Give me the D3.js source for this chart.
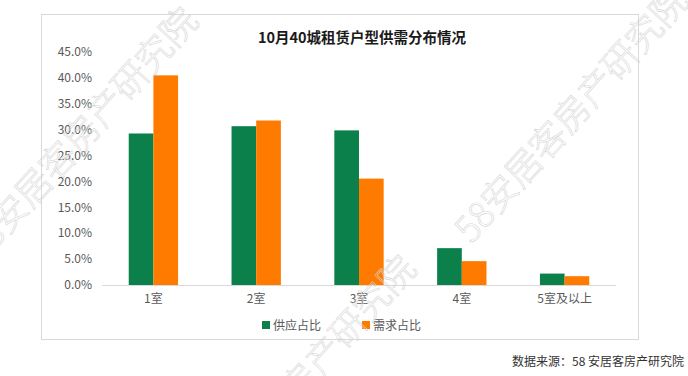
<!DOCTYPE html>
<html>
<head>
<meta charset="utf-8">
<script src="https://cdn.jsdelivr.net/npm/d3@7"></script>
<style>
  body { margin: 0; background: #fff; }
  svg { display: block; font-family: "Noto Sans CJK SC", "Noto Sans", sans-serif; }
</style>
</head>
<body>
<script>
//svg size
var w = 688;
var h = 376;

//data
var rooms = ["1室", "2室", "3室", "4室", "5室及以上"];
var supply = [0.292, 0.306, 0.298, 0.071, 0.022];
var demand = [0.404, 0.317, 0.205, 0.046, 0.017];
var seriesNames = ["供应占比", "需求占比"];
var yTicks = [0, 0.05, 0.10, 0.15, 0.20, 0.25, 0.30, 0.35, 0.40, 0.45];

var colors = ["#0b804b", "#ff7b00"];

//plot area (named so they don't clash with window.top etc)
var plotLeft = 102, plotRight = 616, plotTop = 51.5, plotBottom = 285;

var svg = d3.select("body")
            .append("svg")
            .attr("width", w)
            .attr("height", h);

//outer frame
svg.append("rect")
    .attr("x", 41.5).attr("y", 14.5)
    .attr("width", 597).attr("height", 325)
    .attr("fill", "#fff")
    .attr("stroke", "#d9d9d9");

//title
svg.append("text")
    .attr("x", 362).attr("y", 43)
    .attr("text-anchor", "middle")
    .attr("font-size", 14.5)
    .attr("font-weight", "bold")
    .attr("fill", "#1a1a1a")
    .text("10月40城租赁户型供需分布情况");

//scales
var xScale = d3.scaleBand()
                .domain(rooms)
                .range([plotLeft, plotRight])
                .paddingInner(0.52)
                .paddingOuter(0.26);

var xSub = d3.scaleBand()
                .domain(seriesNames)
                .range([0, xScale.bandwidth()]);

var yScale = d3.scaleLinear()
                .domain([0, 0.45])
                .range([plotBottom, plotTop]);

//y axis labels only
var yAxis = svg.append("g")
    .attr("transform", "translate(" + plotLeft + ",0)")
    .call(d3.axisLeft(yScale).tickValues(yTicks).tickFormat(d3.format(".1%")).tickSize(0).tickPadding(10));
yAxis.select(".domain").remove();
yAxis.selectAll("text")
    .attr("font-size", 12)
    .attr("fill", "#595959")
    .style("font-family", "'Noto Sans CJK SC', sans-serif");

//bars
var table = rooms.map(function(r, i) {
    return { room: r, values: [supply[i], demand[i]] };
});

var groups = svg.selectAll("g.grp")
                .data(table)
                .enter()
                .append("g")
                .attr("class", "grp")
                .attr("transform", function(d) {
                    return "translate(" + xScale(d.room) + ",0)";
                });

groups.selectAll("rect")
    .data(function(d) { return d.values; })
    .enter()
    .append("rect")
    .attr("x", function(d, i) { return xSub(seriesNames[i]); })
    .attr("y", function(d) { return yScale(d); })
    .attr("width", xSub.bandwidth())
    .attr("height", function(d) { return yScale(0) - yScale(d); })
    .attr("fill", function(d, i) { return colors[i]; });

//x axis
var xAxis = svg.append("g")
    .attr("transform", "translate(0," + plotBottom + ")")
    .call(d3.axisBottom(xScale).tickSize(0).tickPadding(9));
xAxis.select(".domain")
    .attr("stroke", "#d9d9d9")
    .attr("d", "M" + plotLeft + ",0.5H" + plotRight);
xAxis.selectAll("text")
    .attr("font-size", 12)
    .attr("fill", "#595959")
    .style("font-family", "'Noto Sans CJK SC', sans-serif");

//legend
var legendX = [262, 362];
var legend = svg.selectAll("g.legend")
    .data(seriesNames)
    .enter()
    .append("g")
    .attr("class", "legend")
    .attr("transform", function(d, i) { return "translate(" + legendX[i] + ",321)"; });
legend.append("rect")
    .attr("width", 8).attr("height", 8)
    .attr("fill", function(d, i) { return colors[i]; });
legend.append("text")
    .attr("x", 11).attr("y", 8.5)
    .attr("font-size", 12)
    .attr("fill", "#595959")
    .text(function(d) { return d; });

//source note
svg.append("text")
    .attr("x", 684).attr("y", 366)
    .attr("text-anchor", "end")
    .attr("font-size", 12)
    .attr("fill", "#333")
    .text("数据来源：58 安居客房产研究院");

//watermarks
var marks = [[200, 22], [418, 270], [690, 2]];
svg.selectAll("text.wm")
    .data(marks)
    .enter()
    .append("text")
    .attr("class", "wm")
    .attr("transform", function(d) { return "translate(" + d[0] + "," + d[1] + ") rotate(-48)"; })
    .attr("text-anchor", "end")
    .attr("font-size", 36)
    .attr("font-weight", 300)
    .attr("fill", "none")
    .attr("stroke", "#d6d6d6")
    .attr("stroke-width", 0.6)
    .text("58安居客房产研究院");
</script>
</body>
</html>
